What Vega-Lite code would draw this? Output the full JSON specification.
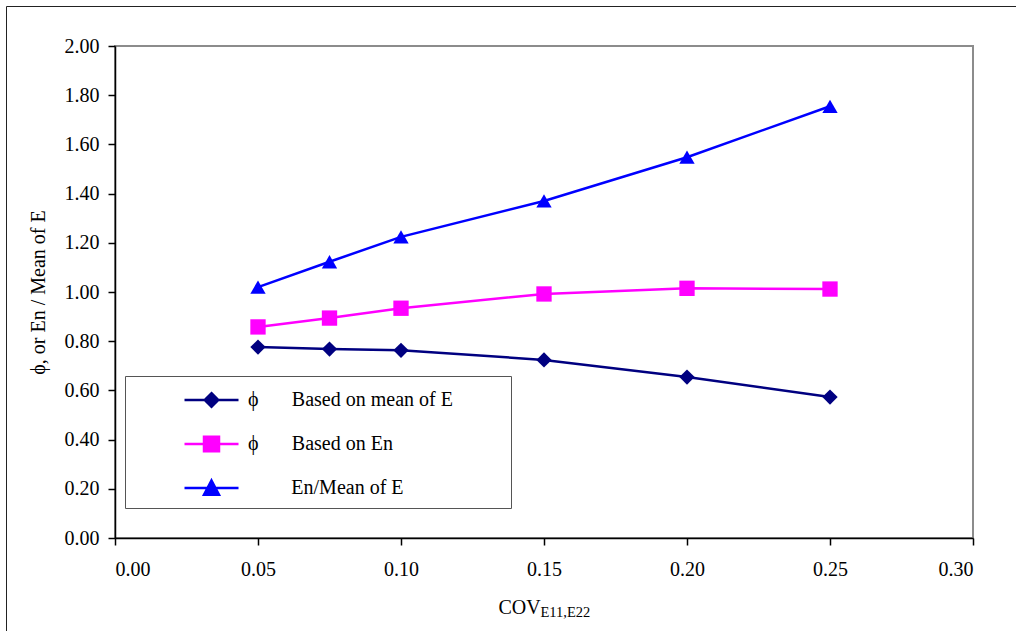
{
  "$schema": "https://vega.github.io/schema/vega-lite/v6.json",
  "width": 858,
  "height": 492,
  "autosize": {"type": "none"},
  "padding": {"left": 115, "top": 46, "right": 43, "bottom": 93},
  "background": "white",
  "data": {
    "values": [
      {"x": 0.05, "y": 0.776, "series": "Based on mean of E"},
      {"x": 0.075, "y": 0.768, "series": "Based on mean of E"},
      {"x": 0.10, "y": 0.763, "series": "Based on mean of E"},
      {"x": 0.15, "y": 0.724, "series": "Based on mean of E"},
      {"x": 0.20, "y": 0.654, "series": "Based on mean of E"},
      {"x": 0.25, "y": 0.573, "series": "Based on mean of E"},
      {"x": 0.05, "y": 0.858, "series": "Based on En"},
      {"x": 0.075, "y": 0.894, "series": "Based on En"},
      {"x": 0.10, "y": 0.934, "series": "Based on En"},
      {"x": 0.15, "y": 0.992, "series": "Based on En"},
      {"x": 0.20, "y": 1.015, "series": "Based on En"},
      {"x": 0.25, "y": 1.012, "series": "Based on En"},
      {"x": 0.05, "y": 1.02, "series": "En/Mean of E"},
      {"x": 0.075, "y": 1.123, "series": "En/Mean of E"},
      {"x": 0.10, "y": 1.224, "series": "En/Mean of E"},
      {"x": 0.15, "y": 1.37, "series": "En/Mean of E"},
      {"x": 0.20, "y": 1.548, "series": "En/Mean of E"},
      {"x": 0.25, "y": 1.755, "series": "En/Mean of E"}
    ]
  },
  "layer": [
    {
      "mark": {"type": "line", "strokeWidth": 2.5},
      "encoding": {
        "x": {
          "field": "x", "type": "quantitative",
          "scale": {"domain": [0, 0.3], "nice": false, "zero": false},
          "axis": {
            "values": [0, 0.05, 0.1, 0.15, 0.2, 0.25, 0.3],
            "format": ".2f",
            "grid": false,
            "title": "COV",
            "titleX": 383,
            "titleY": 75,
            "titleAlign": "left",
            "titleBaseline": "alphabetic",
            "titleAnchor": null,
            "labelPadding": 14,
            "tickSize": 7
          }
        },
        "y": {
          "field": "y", "type": "quantitative",
          "scale": {"domain": [0, 2], "nice": false},
          "axis": {
            "values": [0, 0.2, 0.4, 0.6, 0.8, 1.0, 1.2, 1.4, 1.6, 1.8, 2.0],
            "format": ".2f",
            "grid": false,
            "title": "ϕ, or En / Mean of E",
            "titlePadding": 16,
            "labelPadding": 9,
            "tickSize": 7
          }
        },
        "color": {
          "field": "series", "type": "nominal", "legend": null,
          "scale": {
            "domain": ["Based on mean of E", "Based on En", "En/Mean of E"],
            "range": ["#000080", "#FF00FF", "#0000FF"]
          }
        }
      }
    },
    {
      "mark": {"type": "point", "filled": true, "opacity": 1, "size": 235},
      "encoding": {
        "x": {"field": "x", "type": "quantitative", "axis": null},
        "y": {"field": "y", "type": "quantitative"},
        "color": {
          "field": "series", "type": "nominal", "legend": null,
          "scale": {
            "domain": ["Based on mean of E", "Based on En", "En/Mean of E"],
            "range": ["#000080", "#FF00FF", "#0000FF"]
          }
        },
        "shape": {
          "field": "series", "type": "nominal", "legend": null,
          "scale": {
            "domain": ["Based on mean of E", "Based on En", "En/Mean of E"],
            "range": ["diamond", "square", "triangle-up"]
          }
        }
      }
    },
    {
      "transform": [{"filter": {"field": "x", "lt": -1}}],
      "mark": {"type": "point", "filled": true, "size": 900, "strokeWidth": 2.5},
      "encoding": {
        "x": {
          "field": "x", "type": "quantitative",
          "axis": {
            "orient": "top",
            "domain": false,
            "ticks": false,
            "labels": false,
            "grid": false,
            "title": "E11,E22",
            "titleX": 425,
            "titleY": 570,
            "titleAlign": "left",
            "titleBaseline": "alphabetic",
            "titleFontSize": 14.5,
            "titleAnchor": null
          }
        },
        "y": {"field": "y", "type": "quantitative"},
        "opacity": {
          "field": "y", "type": "quantitative",
          "scale": {"domain": [0, 2], "range": [1, 1]},
          "legend": {
            "orient": "none",
            "legendX": -109,
            "legendY": -40,
            "title": null,
            "padding": 800,
            "strokeColor": "#222222",
            "symbolOpacity": 0,
            "labelOpacity": 0,
            "labelExpr": "''"
          }
        },
        "fill": {
          "field": "series", "type": "nominal",
          "scale": {
            "domain": ["Based on mean of E", "Based on En", "En/Mean of E"],
            "range": ["#000080", "#FF00FF", "#0000FF"]
          },
          "legend": {
            "orient": "none",
            "legendX": 10,
            "legendY": 330,
            "title": null,
            "padding": 7.5,
            "rowPadding": 15,
            "labelOffset": 82.5,
            "labelLimit": 0,
            "labelExpr": "datum.label == 'Based on mean of E' ? 'ϕ\u2003\u2002\u2006Based on mean of E\u2003\u2003\u2002\u200b' : datum.label == 'Based on En' ? 'ϕ\u2003\u2002\u2006Based on En' : '\u200b\u2003\u2003\u2006En/Mean of E'",
            "strokeColor": "#555555",
            "fillColor": "white",
            "symbolSize": 900,
            "symbolStrokeWidth": 2.5,
            "symbolOpacity": 1
          }
        },
        "stroke": {
          "field": "series", "type": "nominal",
          "scale": {
            "domain": ["Based on mean of E", "Based on En", "En/Mean of E"],
            "range": ["#000080", "#FF00FF", "#0000FF"]
          },
          "legend": {
            "orient": "none",
            "legendX": 10,
            "legendY": 330,
            "title": null,
            "padding": 7.5,
            "rowPadding": 15,
            "labelOffset": 82.5,
            "labelLimit": 0,
            "labelExpr": "datum.label == 'Based on mean of E' ? 'ϕ\u2003\u2002\u2006Based on mean of E\u2003\u2003\u2002\u200b' : datum.label == 'Based on En' ? 'ϕ\u2003\u2002\u2006Based on En' : '\u200b\u2003\u2003\u2006En/Mean of E'",
            "strokeColor": "#555555",
            "fillColor": "white",
            "symbolSize": 900,
            "symbolStrokeWidth": 2.5,
            "symbolOpacity": 1
          }
        },
        "shape": {
          "field": "series", "type": "nominal",
          "scale": {
            "domain": ["Based on mean of E", "Based on En", "En/Mean of E"],
            "range": [
              "M2.367,0H5.967M4.167,-0.45L4.617,0L4.167,0.45L3.717,0Z",
              "M2.367,0H5.967M3.667,-0.48H4.667V0.48H3.667Z",
              "M2.367,0H5.967M4.167,-0.5L4.667,0.45L3.667,0.45Z"
            ]
          },
          "legend": {
            "orient": "none",
            "legendX": 10,
            "legendY": 330,
            "title": null,
            "padding": 7.5,
            "rowPadding": 15,
            "labelOffset": 82.5,
            "labelLimit": 0,
            "labelExpr": "datum.label == 'Based on mean of E' ? 'ϕ\u2003\u2002\u2006Based on mean of E\u2003\u2003\u2002\u200b' : datum.label == 'Based on En' ? 'ϕ\u2003\u2002\u2006Based on En' : '\u200b\u2003\u2003\u2006En/Mean of E'",
            "strokeColor": "#555555",
            "fillColor": "white",
            "symbolSize": 900,
            "symbolStrokeWidth": 2.5,
            "symbolOpacity": 1
          }
        }
      }
    }
  ],
  "resolve": {
    "scale": {"shape": "independent", "fill": "independent", "stroke": "independent", "opacity": "independent"},
    "legend": {"shape": "independent", "fill": "independent", "stroke": "independent", "opacity": "independent"},
    "axis": {"x": "independent"}
  },
  "config": {
    "font": "Liberation Serif",
    "view": {"stroke": "#8c8c8c", "strokeWidth": 2},
    "axis": {
      "labelFont": "Liberation Serif",
      "labelFontSize": 20,
      "labelColor": "black",
      "titleFont": "Liberation Serif",
      "titleFontSize": 20,
      "titleFontWeight": "normal",
      "titleColor": "black",
      "domainColor": "black",
      "domainWidth": 1.5,
      "tickColor": "black",
      "tickWidth": 1.5
    },
    "legend": {
      "labelFont": "Liberation Serif",
      "labelFontSize": 20,
      "labelColor": "black",
      "symbolStrokeWidth": 2.5
    }
  }
}
